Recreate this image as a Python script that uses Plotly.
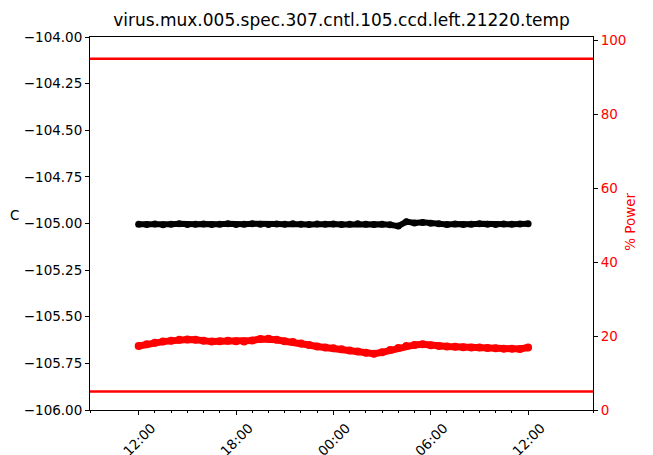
import plotly.graph_objects as go

# sample times (every 30 min, 12:00 -> 12:00 next day)
times = [
    "2021-08-08 12:00", "2021-08-08 12:30", "2021-08-08 13:00", "2021-08-08 13:30",
    "2021-08-08 14:00", "2021-08-08 14:30", "2021-08-08 15:00", "2021-08-08 15:30",
    "2021-08-08 16:00", "2021-08-08 16:30", "2021-08-08 17:00", "2021-08-08 17:30",
    "2021-08-08 18:00", "2021-08-08 18:30", "2021-08-08 19:00", "2021-08-08 19:30",
    "2021-08-08 20:00", "2021-08-08 20:30", "2021-08-08 21:00", "2021-08-08 21:30",
    "2021-08-08 22:00", "2021-08-08 22:30", "2021-08-08 23:00", "2021-08-08 23:30",
    "2021-08-09 00:00", "2021-08-09 00:30", "2021-08-09 01:00", "2021-08-09 01:30",
    "2021-08-09 02:00", "2021-08-09 02:30", "2021-08-09 03:00", "2021-08-09 03:30",
    "2021-08-09 04:00", "2021-08-09 04:30", "2021-08-09 05:00", "2021-08-09 05:30",
    "2021-08-09 06:00", "2021-08-09 06:30", "2021-08-09 07:00", "2021-08-09 07:30",
    "2021-08-09 08:00", "2021-08-09 08:30", "2021-08-09 09:00", "2021-08-09 09:30",
    "2021-08-09 10:00", "2021-08-09 10:30", "2021-08-09 11:00", "2021-08-09 11:30",
    "2021-08-09 12:00",
]

temp = [
    -105.004, -105.006, -105.003, -105.007, -105.004, -105.002, -105.006, -105.004,
    -105.003, -105.006, -105.004, -105.002, -105.005, -105.004, -105.001, -105.004,
    -105.006, -105.003, -105.004, -105.002, -105.004, -105.006, -105.003, -105.004,
    -105.003, -105.005, -105.004, -105.002, -105.004, -105.006, -105.004, -105.007,
    -105.014, -104.990, -104.997, -104.994, -104.999, -105.002, -105.005, -105.003,
    -105.006, -105.004, -105.002, -105.004, -105.006, -105.003, -105.004, -105.003,
    -105.002,
]
setpoint = [-105.0] * len(times)

power = [
    17.3, 17.8, 18.2, 18.5, 18.7, 19.0, 19.1, 19.0, 18.7, 18.5, 18.6, 18.7,
    18.6, 18.5, 18.8, 19.2, 19.3, 19.0, 18.6, 18.4, 18.0, 17.6, 17.2, 16.9,
    16.7, 16.4, 16.1, 15.8, 15.5, 15.2, 15.6, 16.2, 16.8, 17.3, 17.6, 17.8,
    17.5, 17.3, 17.2, 17.1, 17.0, 16.9, 16.9, 16.8, 16.7, 16.6, 16.6, 16.5,
    16.9,
]
power_limits = [5, 95]

x_range = ["2021-08-08 09:00", "2021-08-09 16:00"]
minor_ticks = ["2021-08-08 09:00"] + times[::2] + ["2021-08-09 16:00"]

FONT = "DejaVu Sans"

fig = go.Figure()
fig.add_trace(go.Scatter(
    x=times, y=setpoint, mode="lines",
    line=dict(color="#008000", width=1.2), showlegend=False,
))
fig.add_trace(go.Scatter(
    x=times, y=temp, mode="lines+markers",
    line=dict(color="black", width=6), marker=dict(color="black", size=7),
    showlegend=False,
))
fig.add_trace(go.Scatter(
    x=times, y=power, mode="lines+markers", yaxis="y2",
    line=dict(color="red", width=7), marker=dict(color="red", size=8),
    showlegend=False,
))

for v in power_limits:
    fig.add_shape(type="line", xref="paper", x0=0, x1=1, yref="y2", y0=v, y1=v,
                  line=dict(color="red", width=2.5))

# page has an 8px body margin, so the figure is a bit smaller than the window
fig.update_layout(
    width=645, height=447,
    margin=dict(l=82, r=60, t=29, b=45),
    plot_bgcolor="white", paper_bgcolor="white",
    font=dict(family=FONT, size=13.5, color="black"),
    title=dict(text="virus.mux.005.spec.307.cntl.105.ccd.left.21220.temp",
               x=0.5, xref="paper", y=0.973, yref="container", yanchor="middle",
               font=dict(size=17, family=FONT, color="black")),
    xaxis=dict(
        range=x_range, type="date", showgrid=False, zeroline=False,
        showline=True, linecolor="black", linewidth=1, mirror=True,
        tickformat="%H:%M", tickmode="linear", tick0="2021-08-08 00:00",
        dtick=6 * 3600 * 1000, tickangle=-45, ticklabelshift=13,
        ticks="outside", ticklen=4, tickcolor="black",
        minor=dict(tickmode="array", tickvals=minor_ticks, ticks="outside",
                   ticklen=2, tickcolor="black"),
        automargin=False,
    ),
    yaxis=dict(
        range=[-106, -104], showgrid=False, zeroline=False,
        showline=True, linecolor="black", linewidth=1,
        tickmode="linear", tick0=-106, dtick=0.25, tickformat=".2f",
        ticks="outside", ticklen=4, tickcolor="black",
        automargin=False,
    ),
    yaxis2=dict(
        range=[0, 100.9], overlaying="y", side="right",
        showgrid=False, zeroline=False,
        showline=True, linecolor="black", linewidth=1,
        tickmode="linear", tick0=0, dtick=20,
        ticks="outside", ticklen=4, tickcolor="black",
        tickfont=dict(color="red"),
        automargin=False,
    ),
)

fig.add_annotation(text="C", xref="paper", yref="paper", x=-0.163, y=0.523,
                   showarrow=False, font=dict(size=13.5, color="black"))
fig.add_annotation(text="% Power", xref="paper", yref="paper", x=1.093, y=0.504,
                   textangle=-90, showarrow=False, font=dict(size=13.5, color="red"))

fig.write_html("out.html")
